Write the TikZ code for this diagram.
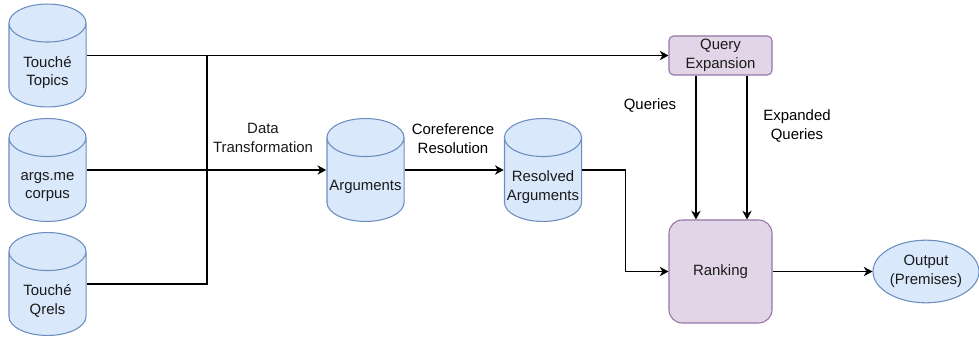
\documentclass[tikz,border=0pt]{standalone}
\usepackage{fontspec}
\setmainfont{Liberation Sans}
\usetikzlibrary{arrows.meta,positioning,calc,shapes.geometric}
\definecolor{dbfill}{HTML}{DAE8FC}
\definecolor{dbline}{HTML}{6C8EBF}
\definecolor{procfill}{HTML}{E1D5E7}
\definecolor{procline}{HTML}{9673A6}
\definecolor{ink}{HTML}{1A1A1A}
\newcommand{\lbl}{\fontsize{11.2}{13.8}\selectfont}
\newcommand{\capr}{14.25pt}
\tikzset{
  db/.style={
    rectangle, minimum width=58.6pt, minimum height=78pt, inner sep=0pt,
    path picture={
      \draw[dbline, fill=dbfill, line width=0.8pt]
        let \p1=($(path picture bounding box.north west)+(.4pt,-.4pt)$),
            \p2=($(path picture bounding box.south east)+(-.4pt,.4pt)$),
            \n1={(\x2-\x1)/2} in
        (\x1,\y1-\capr) -- (\x1,\y2+\capr)
          arc[start angle=180, end angle=360, x radius=\n1, y radius=\capr]
          -- (\x2,\y1-\capr)
          arc[start angle=0, end angle=180, x radius=\n1, y radius=\capr] -- cycle
        (\x1,\y1-\capr)
          arc[start angle=180, end angle=360, x radius=\n1, y radius=\capr];
    }},
  dbtxt/.style={align=center, font=\lbl, text=ink, inner sep=0pt},
  proc/.style={
    rectangle, rounded corners=#1, draw=procline, fill=procfill,
    line width=0.8pt, inner sep=0pt, align=center, font=\lbl, text=ink},
  outbox/.style={
    ellipse, draw=dbline, fill=dbfill, line width=0.8pt, inner sep=0pt,
    minimum width=79.5pt, minimum height=47pt, align=center, font=\lbl, text=ink},
  fl/.style={-{Stealth[length=6.5pt,width=7pt,inset=2pt]}, draw=black, line width=0.9pt},
  ln/.style={draw=black, line width=0.9pt},
  note/.style={align=center, font=\lbl, inner sep=0pt},
}

\begin{document}
\begin{tikzpicture}[x=0.75pt, y=-0.75pt]
\useasboundingbox (0,0) rectangle (979,338);

% sources on the left
\node[db] (topics) at (47.5,55.5) {};
\node[db] (corpus) at (47.5,170)  {};
\node[db] (qrels)  at (47.5,284)  {};
\node[dbtxt] (topics-t) at ([yshift=-12.75pt]topics.center) {Touché\\Topics};
\node[dbtxt] (corpus-t) at ([yshift=-12.75pt]corpus.center) {args.me\\corpus};
\node[dbtxt] (qrels-t)  at ([yshift=-12.75pt]qrels.center)  {Touché\\Qrels};

% argument stores
\node[db] (args) at (365.5,170) {};
\node[db] (res)  at (543,170)   {};
\node[dbtxt] (args-t) at ([yshift=-12.75pt]args.center) {Arguments};
\node[dbtxt] (res-t)  at ([yshift=-12.75pt]res.center)  {Resolved\\Arguments};

% retrieval side
\node[proc=3.5pt, minimum width=77.25pt, minimum height=29.25pt] (qe)   at (720.5,55.5)  {Query\\Expansion};
\node[proc=10pt,  minimum width=77.25pt, minimum height=77.25pt] (rank) at (720.5,271.5) {Ranking};
\node[outbox] (out) at (926,271.5) {Output\\(Premises)};

% topics and qrels join into one line
\coordinate (jt) at (207,55.5);
\draw[fl] (topics.east) -- (qe.west);
\draw[ln] (qrels.east) -| (jt);

\draw[fl] (corpus.east) -- (args.west);
\node[note, text=ink] (dtlbl) at (263,138) {Data\\Transformation};

\draw[fl] (args.east) -- (res.west);
\node[note, text=black] (corlbl) at (453,138.5) {Coreference\\Resolution};

\draw[fl] (res.east) -| ($(res.east)!.5!(rank.west)$) |- (rank.west);

\draw[fl] ([xshift=-18.4pt]qe.south) -- ([xshift=-18.4pt]rank.north);
\draw[fl] ([xshift=19.9pt]qe.south)  -- ([xshift=19.9pt]rank.north);
\node[note, text=black] (qlbl)  at (650,106) {Queries};
\node[note, text=black] (eqlbl) at (797,126) {Expanded\\Queries};

\draw[fl] (rank.east) -- (out.west);

\end{tikzpicture}
\end{document}
